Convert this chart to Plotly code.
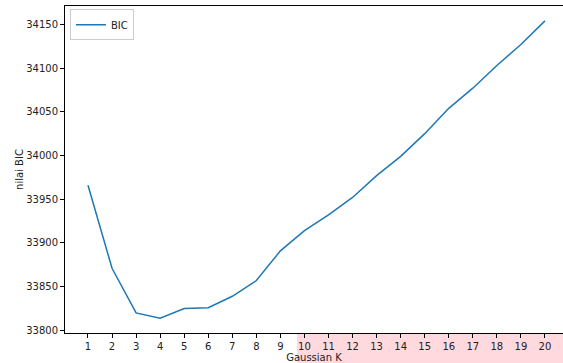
import plotly.graph_objects as go

k_values = list(range(1, 21))
bic_values = [33966, 33871, 33820, 33814, 33825, 33826, 33839, 33857, 33891, 33914,
              33932, 33952, 33977, 33999, 34025, 34054, 34077, 34103, 34127, 34154]
x_tick_labels = [str(k) for k in k_values]
y_tick_values = [33800, 33850, 33900, 33950, 34000, 34050, 34100, 34150]
y_tick_labels = [str(v) for v in y_tick_values]

fig = go.Figure()
fig.add_trace(go.Scatter(
    x=k_values, y=bic_values, mode="lines", name="BIC",
    line=dict(color="#1f77b4", width=1.5),
))

font = dict(family="DejaVu Sans", size=10, color="#222222")

fig.update_layout(
    width=563, height=363,
    margin=dict(l=65, r=0, t=6, b=30, autoexpand=False),
    paper_bgcolor="white", plot_bgcolor="white",
    font=font,
    showlegend=True,
    legend=dict(
        x=0.01, y=0.99, xanchor="left", yanchor="top",
        bgcolor="rgba(255,255,255,0.8)", bordercolor="#cccccc", borderwidth=1,
        font=dict(family="DejaVu Sans", size=10, color="#222222"),
        itemwidth=30, tracegroupgap=0,
    ),
    xaxis=dict(
        range=[0.044, 20.75], automargin=False,
        tickmode="array", tickvals=k_values, ticktext=x_tick_labels,
        showgrid=False, zeroline=False,
        showline=True, linecolor="black", linewidth=1, mirror=True,
        ticks="outside", ticklen=4, tickcolor="black", tickwidth=1,
        title=dict(text="Gaussian K", standoff=0, font=font),
        tickfont=font,
    ),
    yaxis=dict(
        range=[33797, 34171], automargin=False,
        tickmode="array", tickvals=y_tick_values, ticktext=y_tick_labels,
        showgrid=False, zeroline=False,
        showline=True, linecolor="black", linewidth=1, mirror=False,
        ticks="outside", ticklen=4, tickcolor="black", tickwidth=1,
        title=dict(text="nilai BIC", standoff=0, font=font),
        tickfont=font,
    ),
    shapes=[dict(
        type="rect", xref="paper", yref="paper",
        x0=(297 - 65) / 498, x1=1.0, y0=-30 / 327, y1=0,
        fillcolor="rgb(255,217,222)", line=dict(width=0), layer="below",
    )],
)

fig.write_html(
    "out.html",
    config={"displayModeBar": False},
    post_script="document.body.style.margin='0';document.body.style.overflow='hidden';",
)
